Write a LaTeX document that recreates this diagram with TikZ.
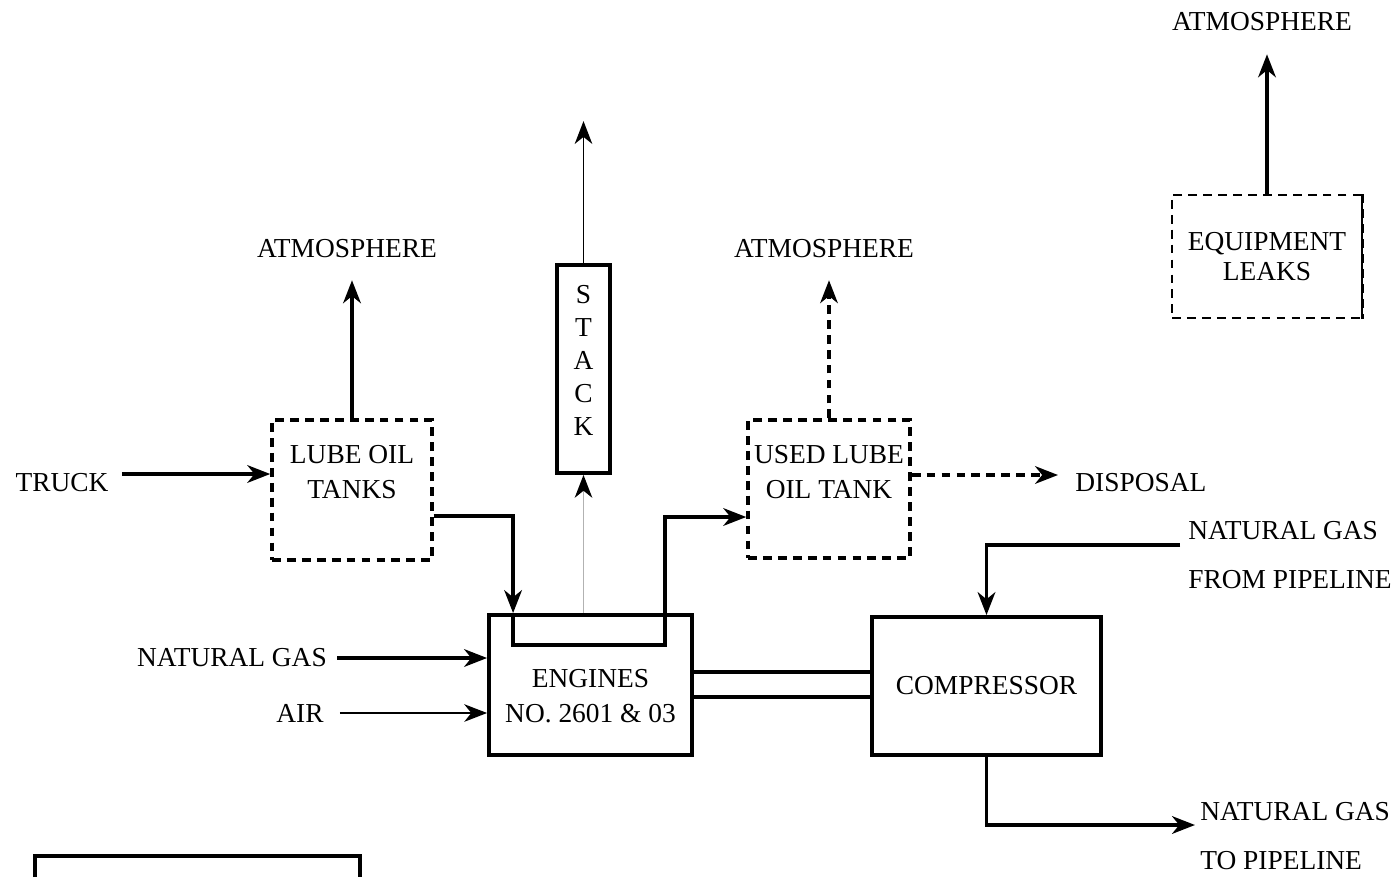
\documentclass[tikz,border=0pt]{standalone}
\usepackage{fontspec}
\setmainfont{Liberation Serif}
\usetikzlibrary{arrows.meta}

\begin{document}
\begin{tikzpicture}[
x=0.02cm, y=-0.02cm,
every node/.style={
font=\fontsize{15.6}{20}\selectfont,
align=center,
inner sep=0pt
},
unit/.style={draw, line width=2.2pt},
tank/.style={draw, line width=2pt, dash pattern=on 5pt off 3.5pt},
tip/.style={-{Stealth[length=13pt,width=10pt,inset=4pt,color=black]}},
flow/.style={tip, line width=2.2pt},
thinflow/.style={tip, line width=0.8pt},
leakflow/.style={tip, line width=2pt, dash pattern=on 5pt off 3.5pt}
]
\useasboundingbox (0,0) rectangle (1397,877);

% process units
\node[tank, minimum width=3.2cm, minimum height=2.8cm, text depth=0.72cm] (lube) at (352,490) {LUBE OIL\\TANKS};
\node[tank, minimum width=3.24cm, minimum height=2.76cm, text depth=0.7cm] (usedlube) at (829,489) {USED LUBE\\OIL TANK};
\node[unit, minimum width=1.06cm, minimum height=4.16cm, text depth=0.36cm, font=\fontsize{15.6}{18.8}\selectfont] (stack) at (583.5,369) {S\\T\\A\\C\\K};
\node[unit, minimum width=4.06cm, minimum height=2.8cm, text height=1.5cm, text depth=0pt] (engines) at (590.5,685) {ENGINES\\NO. 2601 \& 03};
\node[unit, minimum width=4.58cm, minimum height=2.76cm] (comp) at (986.5,686) {COMPRESSOR};
\node[draw, line width=0.8pt, dash pattern=on 5pt off 3.5pt, minimum width=3.8cm, minimum height=2.46cm, font=\fontsize{15.6}{17}\selectfont] (leaks) at (1267,256.5) {EQUIPMENT\\LEAKS};
\draw[line width=2pt, dash pattern=on 5pt off 3.5pt] (leaks.north east) -- (leaks.south east);

% labels
\node (atmo1) at (347,249) {ATMOSPHERE};
\node (atmo2) at (824,249) {ATMOSPHERE};
\node (atmo3) at (1262,22) {ATMOSPHERE};
\node (truck) at (62,483) {TRUCK};
\node[anchor=west] (disposal) at (1075,483) {DISPOSAL};
\node (ngas) at (232,658) {NATURAL GAS};
\node (air) at (300,713) {AIR};
\node[anchor=west, align=left, font=\fontsize{15.6}{28}\selectfont] (ngfrom) at (1188,555) {NATURAL GAS\\FROM PIPELINE};
\node[anchor=west, align=left, font=\fontsize{15.6}{28}\selectfont] (ngto) at (1200,836) {NATURAL GAS\\TO PIPELINE};

% flows
\draw[flow] (leaks.north) -- ++(0,-140);
\draw[flow] (lube.north) -- ++(0,-138);
\draw[leakflow] (usedlube.north) -- ++(0,-138);
\draw[thinflow] (stack.north) -- ++(0,-142);
\draw[tip, line width=0.8pt, gray!60] (stack.south |- engines.north) -- (stack.south);
\draw[flow, shorten <=0.26cm] (truck.east |- 0,474) -- (lube.west |- 0,474);
\draw[flow] (lube.east |- 0,516) -| ([xshift=0.52cm]engines.north west);
\draw[flow] ([xshift=0.52cm]engines.north west) |- (665,645) |- (usedlube.west |- 0,517);
\draw[leakflow, shorten >=0.34cm] (usedlube.east |- 0,475) -- (disposal.west |- 0,475);
\draw[flow, shorten <=0.2cm] (ngas.east) -- (ngas.east -| engines.west);
\draw[thinflow, shorten <=0.32cm] (air.east) -- (air.east -| engines.west);
\draw[line width=2.2pt] (engines.east |- 0,672) -- (comp.west |- 0,672);
\draw[line width=2.2pt] (engines.east |- 0,697) -- (comp.west |- 0,697);
\draw[flow, shorten <=0.16cm] (ngfrom.west |- 0,545) -| (comp.north);
\draw[flow, shorten >=0.1cm] (comp.south) |- (ngto.west |- 0,825);

% cut-off box at the bottom
\draw[line width=2.2pt] (35,877) |- (360,856) -- (360,877);

\end{tikzpicture}
\end{document}
